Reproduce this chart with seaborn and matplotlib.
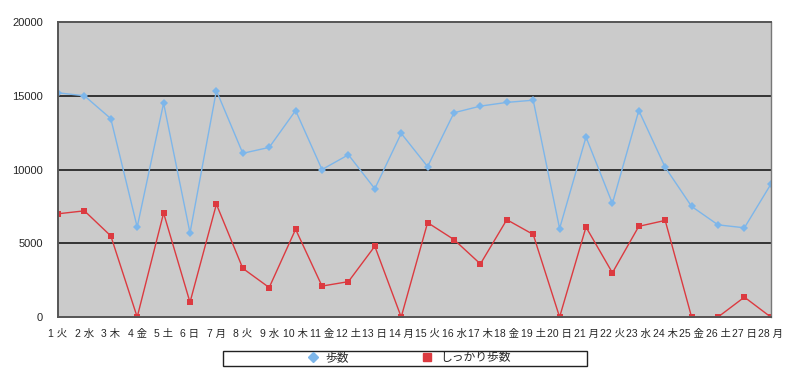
import numpy as np
import pandas as pd
import seaborn as sns
import matplotlib.pyplot as plt
from matplotlib.lines import Line2D
from matplotlib.patches import Rectangle

days = list(range(1, 29))
weekdays = ["火", "水", "木", "金", "土", "日", "月"] * 4
day_labels = [f"{d} {w}" for d, w in zip(days, weekdays)]

steps = [15200, 15000, 13450, 6100, 14500, 5700, 15350, 11100, 11500, 14000,
         10000, 11000, 8700, 12450, 10200, 13850, 14300, 14550, 14700, 6000,
         12200, 7700, 14000, 10150, 7500, 6250, 6050, 9000]
brisk = [7000, 7200, 5500, 0, 7050, 1000, 7650, 3300, 2000, 5950,
         2100, 2400, 4800, 0, 6400, 5250, 3600, 6600, 5600, 0,
         6100, 3000, 6150, 6550, 0, 0, 1350, 0]

names = ["歩数", "しっかり歩数"]
colors = {"歩数": "#7db6ea", "しっかり歩数": "#dc3a40"}
markers = {"歩数": "D", "しっかり歩数": "s"}

df = pd.DataFrame({
    "day": days * 2,
    "value": steps + brisk,
    "series": [names[0]] * 28 + [names[1]] * 28,
})

sns.set_theme(style="white")
plt.rcParams["font.family"] = ["Liberation Sans", "Noto Sans CJK JP", "DejaVu Sans"]

fig = plt.figure(figsize=(8, 3.73), dpi=100)
ax = fig.add_axes([0.0725, 0.150, 0.891, 0.791])
ax.set_facecolor("#cbcbcb")

sns.lineplot(data=df, x="day", y="value", hue="series", style="series",
             palette=colors, markers=markers, dashes=False, markersize=4,
             markeredgewidth=0, linewidth=1.0, legend=False, ax=ax)

ax.set_xlim(1, 28)
ax.set_ylim(0, 20000)
ax.set_yticks([0, 5000, 10000, 15000, 20000])
ax.set_yticklabels(["0", "5000", "10000", "15000", "20000"], fontsize=8)
ax.set_xticks(days)
ax.set_xticklabels(day_labels, fontsize=7.5)
ax.tick_params(axis="x", length=3, width=0.8, color="#444444", direction="out", pad=5.5)
ax.tick_params(axis="y", length=0, pad=11)
for y in [5000, 10000, 15000]:
    ax.axhline(y, color="#333333", linewidth=1.4, zorder=1)
for side in ["left", "bottom", "top"]:
    ax.spines[side].set_color("#555555")
    ax.spines[side].set_linewidth(1.4)
ax.spines["right"].set_color("#777777")
ax.spines["right"].set_linewidth(1.0)
ax.set_xlabel("")
ax.set_ylabel("")

# legend below the plot, boxed
handles = [Line2D([], [], linestyle="none", marker=markers[n], color=colors[n],
                  markersize=6 if n == names[1] else 5) for n in names]
leg = fig.legend(handles, names, loc="center", bbox_to_anchor=(0.51, 0.040),
                 ncol=2, frameon=False, fontsize=8.5,
                 columnspacing=6.0, handletextpad=0.5, borderpad=0.1,
                 handlelength=1.2)
fig.patches.append(Rectangle((223 / 800, 7.5 / 373), 364 / 800, 15 / 373,
                             transform=fig.transFigure, fill=False,
                             edgecolor="#222222", linewidth=1.0))

fig.savefig("out.png", dpi=100)
